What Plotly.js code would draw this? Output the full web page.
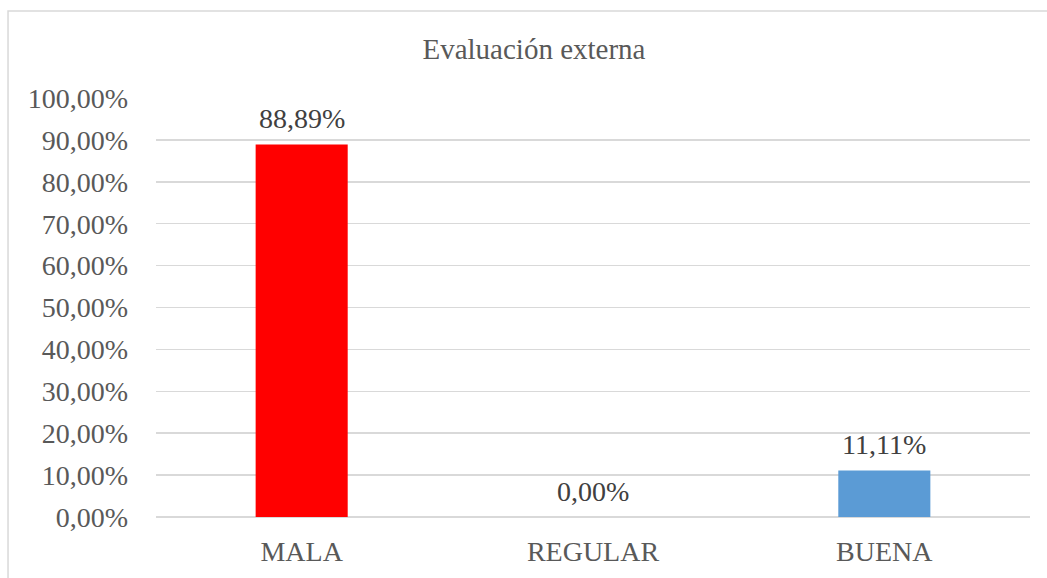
<!DOCTYPE html>
<html><head><meta charset="utf-8">
<script src="https://cdn.plot.ly/plotly-3.0.1.min.js"></script>
<style>html,body{margin:0;padding:0;background:#fff}</style>
</head><body>
<div id="chart" style="width:1047px;height:578px"></div>
<script>
const categories = ["MALA", "REGULAR", "BUENA"];
const values = [0.8889, 0.0, 0.1111];
const barColors = ["#ff0000", "#5b9bd5", "#5b9bd5"];
const tickVals = [0, 0.1, 0.2, 0.3, 0.4, 0.5, 0.6, 0.7, 0.8, 0.9, 1.0];

const font = "Liberation Serif";
const grey = "#595959";

const trace = {
  type: "bar",
  x: categories,
  y: values,
  marker: {color: barColors},
  width: 0.316,
  hoverinfo: "none"
};

const fmt = v => (v * 100).toFixed(2).replace(".", ",") + "%";
const labels = categories.map((c, i) => ({
  x: c, y: values[i], xref: "x", yref: "y",
  text: fmt(values[i]), showarrow: false,
  yanchor: "middle", yshift: 26,
  font: {family: font, size: 28, color: "#404040"}
}));

const layout = {
  width: 1047, height: 578,
  margin: {l: 156, r: 17, t: 98, b: 61},
  paper_bgcolor: "#fff", plot_bgcolor: "#fff",
  separators: ",.",
  showlegend: false,
  font: {family: font, color: grey, size: 28},
  title: {text: "Evaluación externa", x: 0.51, xanchor: "center", y: 0.916, yanchor: "middle",
          font: {family: font, size: 29, color: grey}},
  xaxis: {type: "category", showgrid: false, zeroline: false, showline: false, ticks: "",
          tickfont: {family: font, size: 28, color: grey}, ticklabelstandoff: 15},
  yaxis: {range: [0, 1], tickvals: tickVals, tickformat: ".2%", showgrid: true,
          gridcolor: "#d9d9d9", gridwidth: 1.5, zeroline: true, zerolinecolor: "#d9d9d9", zerolinewidth: 1.5,
          showline: false, ticks: "", ticklabelstandoff: 27,
          tickfont: {family: font, size: 28, color: grey}},
  annotations: labels,
  shapes: [{type: "rect", xref: "paper", yref: "paper",
            x0: -0.1693, x1: 1.03, y0: -0.16, y1: 1.2076,
            line: {color: "#d9d9d9", width: 1.5}, fillcolor: "rgba(0,0,0,0)", layer: "below"}]
};

Plotly.newPlot("chart", [trace], layout, {displayModeBar: false, staticPlot: true});
</script>
</body></html>
